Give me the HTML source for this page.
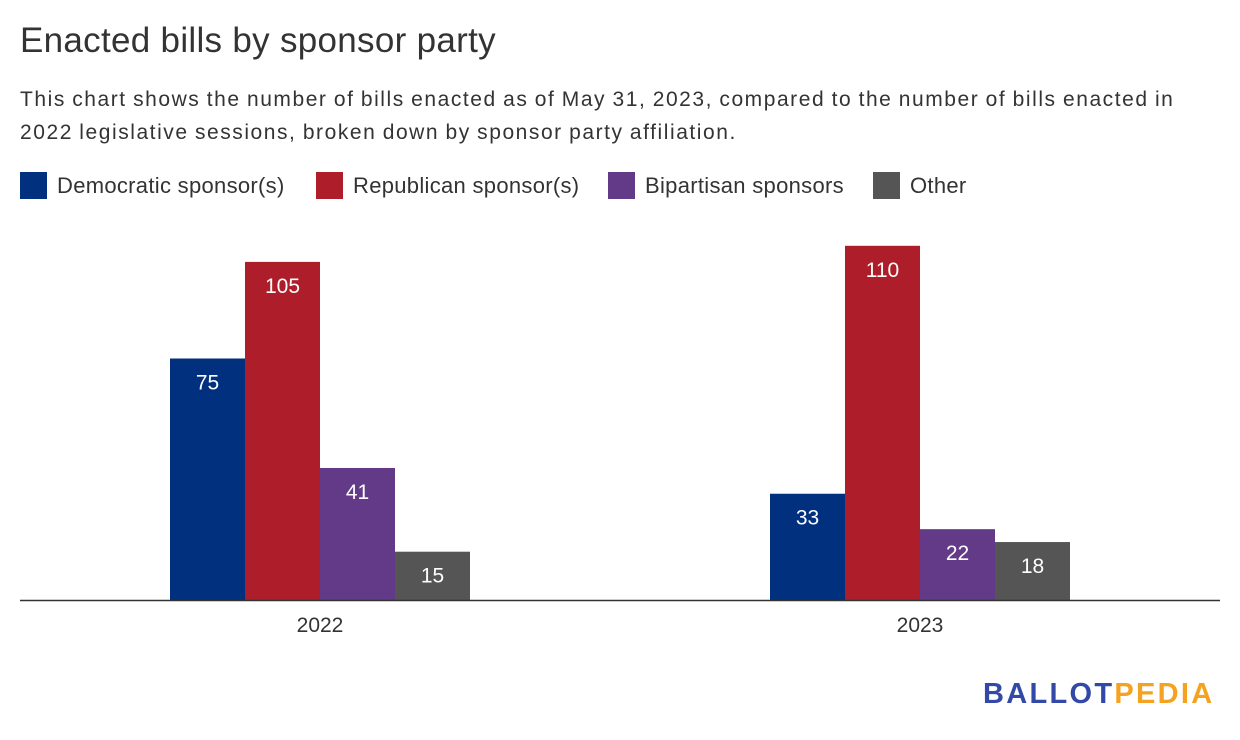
<!DOCTYPE html>
<html><head><meta charset="utf-8"><style>
body{margin:0;width:1240px;height:740px;background:#fff;font-family:"Liberation Sans",sans-serif;overflow:hidden;position:relative}
.t{position:absolute;left:20px;top:21px;font-size:35px;color:#333;letter-spacing:0.3px}
.s{position:absolute;left:20px;top:83px;width:1220px;font-size:21px;line-height:33px;color:#333;letter-spacing:1.55px;word-spacing:-1px;white-space:nowrap}
.li{position:absolute;top:172px;display:flex;align-items:center;font-size:22px;color:#333;letter-spacing:0.3px}
.sw{width:27px;height:27px;margin-right:10px}
.logo{position:absolute;left:983px;top:678px;font-size:29px;font-weight:bold;letter-spacing:2.3px}
</style></head><body>
<div class="t">Enacted bills by sponsor party</div>
<div class="s">This chart shows the number of bills enacted as of May 31, 2023, compared to the number of bills enacted in<br>2022 legislative sessions, broken down by sponsor party affiliation.</div>
<div>
<div class="li" style="left:20px"><div class="sw" style="background:#01307f"></div>Democratic sponsor(s)</div>
<div class="li" style="left:316px"><div class="sw" style="background:#ae1e2a"></div>Republican sponsor(s)</div>
<div class="li" style="left:608px"><div class="sw" style="background:#633a87"></div>Bipartisan sponsors</div>
<div class="li" style="left:873px"><div class="sw" style="background:#555555"></div>Other</div>
</div>
<svg id="c" width="1240" height="740" style="position:absolute;left:0;top:0"></svg>
<div class="logo"><span style="color:#3249a8">BALLOT</span><span style="color:#f4a21f">PEDIA</span></div>
<script>
const categories=["2022","2023"];
const democratic=[75,33];
const republican=[105,110];
const bipartisan=[41,22];
const other=[15,18];
const series=[democratic,republican,bipartisan,other];
const seriesNames=["democratic","republican","bipartisan","other"];
const colors=["#01307f","#ae1e2a","#633a87","#555555"];
const svg=document.getElementById('c');
const NS="http://www.w3.org/2000/svg";
const base=600,scale=3.22,bw=75,groupW=600,x0=20;
const y=v=>base-v*scale;
const groupCenter=i=>x0+groupW*i+300;
categories.forEach((cat,i)=>{
  series.forEach((s,j)=>{
    const v=s[i];
    const bx=groupCenter(i)-2*bw+j*bw;
    const r=document.createElementNS(NS,'rect');
    r.setAttribute('x',bx);r.setAttribute('y',y(v));r.setAttribute('width',bw);r.setAttribute('height',v*scale);r.setAttribute('fill',colors[j]);
    
    
    svg.appendChild(r);
    const t=document.createElementNS(NS,'text');
    t.setAttribute('x',bx+bw/2);t.setAttribute('y',y(v)+31);t.setAttribute('text-anchor','middle');
    t.setAttribute('font-size','21');t.setAttribute('fill','#fff');t.setAttribute('font-family','Liberation Sans, sans-serif');
    t.textContent=v;
    
    
    svg.appendChild(t);
  });
  const l=document.createElementNS(NS,'text');
  l.setAttribute('x',groupCenter(i));l.setAttribute('y',632);l.setAttribute('text-anchor','middle');
  l.setAttribute('font-size','21');l.setAttribute('fill','#333');l.setAttribute('font-family','Liberation Sans, sans-serif');
  l.textContent=cat;
  
  
  svg.appendChild(l);
});
const ax=document.createElementNS(NS,'line');
ax.setAttribute('x1',20);ax.setAttribute('x2',1220);ax.setAttribute('y1',600.5);ax.setAttribute('y2',600.5);ax.setAttribute('stroke','#333');ax.setAttribute('stroke-width','1.5');


svg.appendChild(ax);
</script>
</body></html>
